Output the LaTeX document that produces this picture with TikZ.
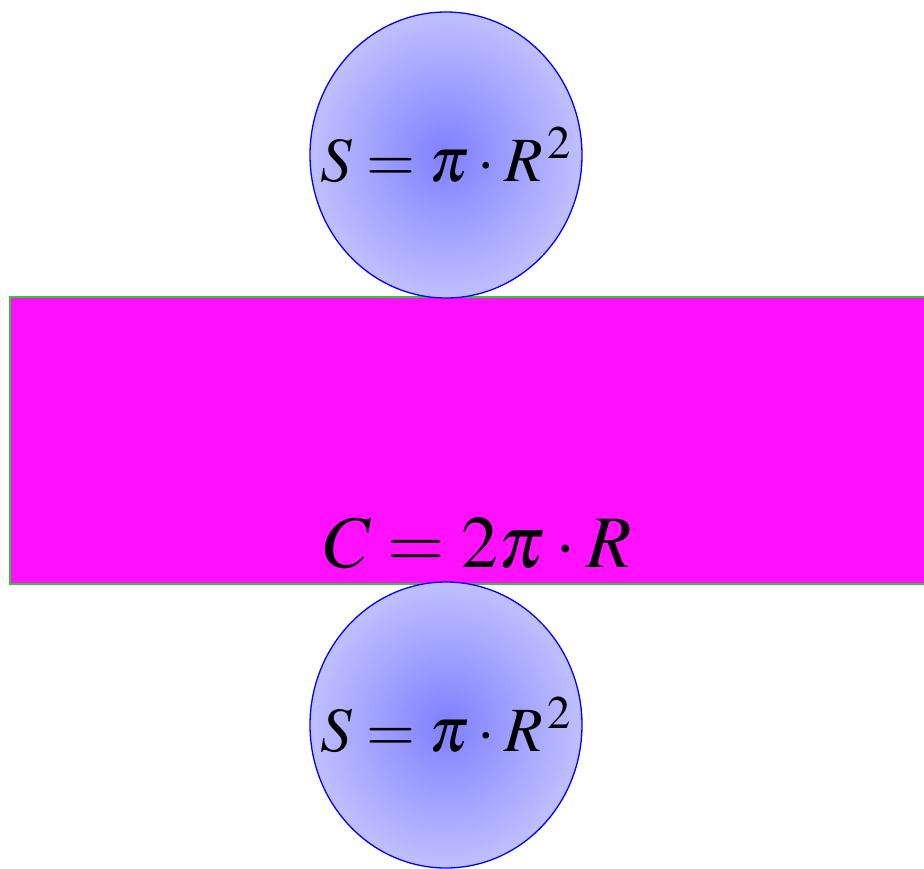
\documentclass[tikz,border=0pt]{standalone}
\usepackage{mathptmx}
\usepackage{tikz}
\usetikzlibrary{positioning,calc,shapes.geometric}
\definecolor{bandgreen}{RGB}{50,200,50}
\definecolor{bandfill}{RGB}{255,16,255}

\begin{document}
\begin{tikzpicture}[x=1pt, y=-1pt,
  disc/.style={ellipse, draw=blue, line width=1.3pt, minimum width=272pt,
               minimum height=286pt, inner sep=-80pt,
               inner color=blue!50, outer color=blue!25,
               font=\fontsize{63}{70}\selectfont},
  band/.style={rectangle, draw=bandgreen, fill=bandfill, line width=1.3pt,
               minimum width=936pt, minimum height=287pt, inner sep=0pt},
  formula/.style={font=\fontsize{74}{80}\selectfont, inner sep=0pt},
]
  \useasboundingbox (0,0) rectangle (924,868);
  \clip (0,0) rectangle (924,868);

  \node[band] (band) at (478,440.5) {};
  \node[formula, anchor=base] (circum) at ($(band.south)+(0,-17)$) {$C=2\pi\cdot R$};

  \node[disc] (topdisc) at (446,155) {$S=\pi\cdot R^{\,2}$};
  \node[disc] (botdisc) at (446,725) {$S=\pi\cdot R^{\,2}$};
\end{tikzpicture}
\end{document}
